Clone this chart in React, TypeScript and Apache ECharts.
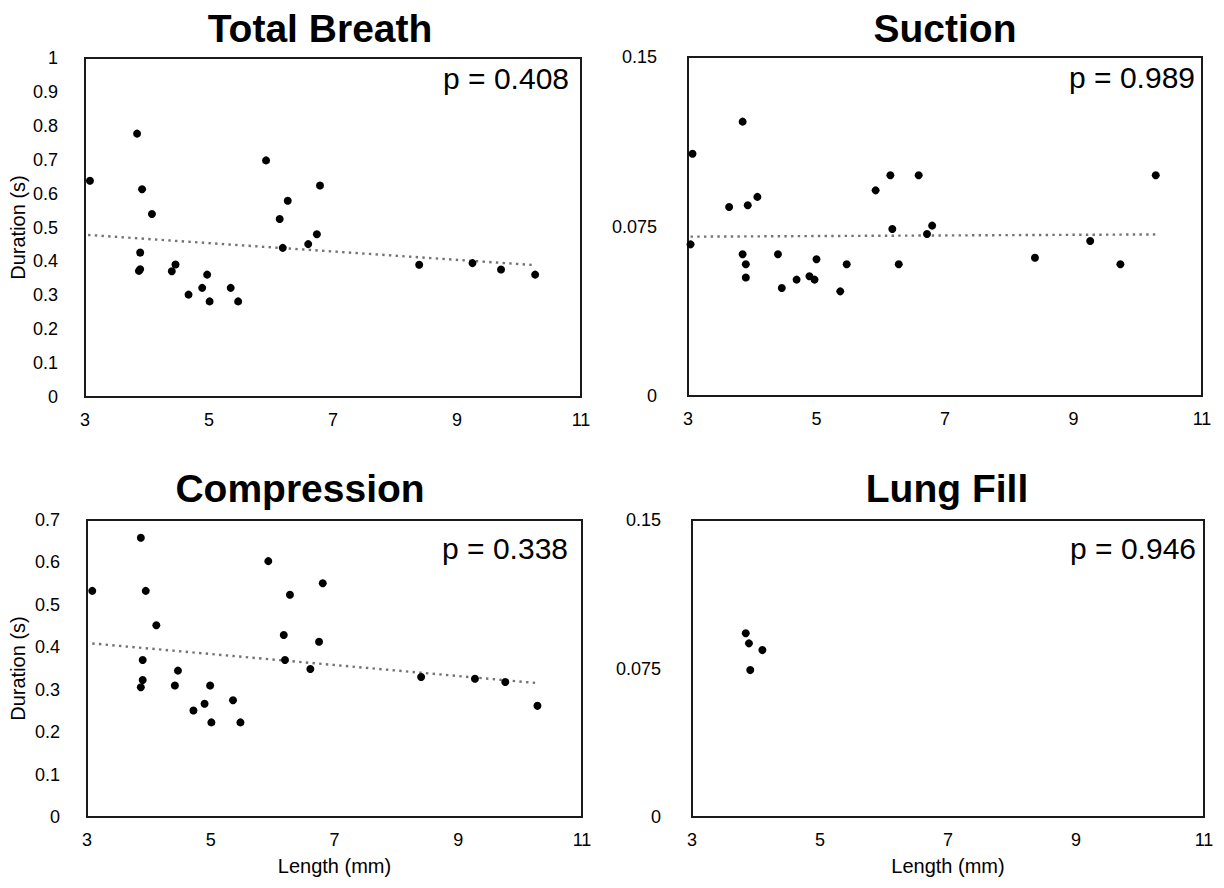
import React, { useEffect, useRef } from "react";
import * as echarts from "echarts";

// ---- data ----
const panelTitles = ["Total Breath", "Suction", "Compression", "Lung Fill"];
const pValues = ["p = 0.408", "p = 0.989", "p = 0.338", "p = 0.946"];
const xAxisTitle = "Length (mm)";
const yAxisTitle = "Duration (s)";

const totalBreathPts: [number, number][] = [
  [3.08, 0.638], [3.84, 0.777], [3.92, 0.613], [4.08, 0.54], [3.89, 0.426],
  [3.87, 0.372], [3.89, 0.377], [4.46, 0.391], [4.4, 0.371], [4.97, 0.361],
  [4.67, 0.302], [4.89, 0.322], [5.01, 0.282], [5.35, 0.322], [5.47, 0.282],
  [5.92, 0.698], [6.27, 0.579], [6.14, 0.525], [6.19, 0.44], [6.79, 0.624],
  [6.74, 0.48], [6.6, 0.451], [8.39, 0.39], [9.25, 0.395], [9.71, 0.376],
  [10.26, 0.361],
];
const suctionPts: [number, number][] = [
  [3.07, 0.1072], [3.04, 0.0671], [3.85, 0.1214], [3.64, 0.0836], [3.93, 0.0844],
  [4.08, 0.0881], [3.85, 0.0627], [3.9, 0.0583], [3.9, 0.0524], [4.4, 0.0627],
  [4.46, 0.0478], [4.69, 0.0515], [4.89, 0.053], [4.97, 0.0515], [5.0, 0.0605],
  [5.37, 0.0463], [5.47, 0.0583], [5.92, 0.091], [6.15, 0.0977], [6.59, 0.0977],
  [6.18, 0.0739], [6.28, 0.0583], [6.8, 0.0754], [6.72, 0.0717], [8.4, 0.0612],
  [9.26, 0.0686], [9.73, 0.0583], [10.28, 0.0977],
];
const compressionPts: [number, number][] = [
  [3.085, 0.533], [3.87, 0.658], [3.95, 0.533], [4.12, 0.452], [3.9, 0.37],
  [3.9, 0.323], [3.87, 0.306], [4.47, 0.345], [4.42, 0.31], [4.99, 0.31],
  [4.9, 0.267], [4.72, 0.251], [5.01, 0.223], [5.36, 0.275], [5.48, 0.223],
  [5.93, 0.603], [6.28, 0.524], [6.81, 0.551], [6.18, 0.429], [6.75, 0.413],
  [6.2, 0.37], [6.61, 0.349], [8.4, 0.33], [9.27, 0.326], [9.76, 0.318],
  [10.28, 0.262],
];
const lungFillPts: [number, number][] = [
  [3.84, 0.0928], [3.89, 0.0877], [4.1, 0.0843], [3.91, 0.0742],
];
// trend line end points
const totalBreathTrend: [number, number][] = [[3.05, 0.478], [10.26, 0.389]];
const suctionTrend: [number, number][] = [[3.04, 0.0705], [10.29, 0.0715]];
const compressionTrend: [number, number][] = [[3.085, 0.409], [10.25, 0.316]];

const xMin = 3, xMax = 11, xStep = 2;
const yMaxes = [1, 0.15, 0.7, 0.15];
const ySteps = [0.1, 0.075, 0.1, 0.075];

const FONT = "'Liberation Sans', Arial, sans-serif";

// grid boxes [left, top, width, height]
const grids = [
  [85, 58, 496, 339],
  [688, 57, 514, 339],
  [87, 520, 495, 297],
  [692, 520, 512, 297],
];

export default function App() {
  const ref = useRef<HTMLDivElement>(null);
  useEffect(() => {
    if (!ref.current) return;
    const chart = echarts.init(ref.current, undefined, { renderer: "svg" });

    const pts = [totalBreathPts, suctionPts, compressionPts, lungFillPts];
    const trends = [totalBreathTrend, suctionTrend, compressionTrend, null];

    const series: any[] = [];
    pts.forEach((d, i) => {
      const tr = trends[i];
      if (tr) {
        series.push({
          type: "line",
          xAxisIndex: i,
          yAxisIndex: i,
          data: tr,
          symbol: "none",
          lineStyle: { color: "#737373", width: 2.4, type: [2.4, 4.3] },
          z: 1,
          silent: true,
        });
      }
      series.push({
        type: "scatter",
        xAxisIndex: i,
        yAxisIndex: i,
        data: d,
        symbol: "circle",
        symbolSize: 8,
        itemStyle: { color: "#000", opacity: 1 },
        z: 3,
      });
    });

    const graphic: any[] = [];
    const titleCenters = [
      [320, 28],
      [945, 28],
      [300, 488],
      [947, 488],
    ];
    grids.forEach((g, i) => {
      const [l, t, w, h] = g;
      graphic.push({
        type: "text",
        x: titleCenters[i][0],
        y: titleCenters[i][1],
        style: {
          text: panelTitles[i],
          font: `bold 39px ${FONT}`,
          fill: "#000",
          align: "center",
          verticalAlign: "middle",
        },
      });
      const pOffY = i < 2 ? 20 : 28;
      const pOffX = i === 0 ? 12 : i === 1 ? 7 : i === 2 ? 14 : 8;
      graphic.push({
        type: "text",
        x: l + w - pOffX,
        y: t + pOffY,
        style: {
          text: pValues[i],
          font: `30px ${FONT}`,
          fill: "#000",
          align: "right",
          verticalAlign: "middle",
        },
      });
      if (i === 0 || i === 2) {
        graphic.push({
          type: "text",
          x: 18,
          y: t + h / 2,
          rotation: Math.PI / 2,
          style: {
            text: yAxisTitle,
            font: `20px ${FONT}`,
            fill: "#000",
            align: "center",
            verticalAlign: "middle",
          },
        });
      }
      if (i >= 2) {
        graphic.push({
          type: "text",
          x: l + w / 2,
          y: 866,
          style: {
            text: xAxisTitle,
            font: `20px ${FONT}`,
            fill: "#000",
            align: "center",
            verticalAlign: "middle",
          },
        });
      }
    });

    chart.setOption({
      animation: false,
      backgroundColor: "#fff",
      grid: grids.map((g) => ({
        left: g[0],
        top: g[1],
        width: g[2],
        height: g[3],
        show: true,
        borderColor: "#1a1a1a",
        borderWidth: 2,
        backgroundColor: "transparent",
        containLabel: false,
      })),
      xAxis: grids.map((_, i) => ({
        type: "value",
        gridIndex: i,
        min: xMin,
        max: xMax,
        interval: xStep,
        axisLine: { show: false },
        axisTick: { show: false },
        splitLine: { show: false },
        axisLabel: {
          color: "#000",
          fontSize: 18,
          fontFamily: FONT,
          margin: 14,
          showMinLabel: true,
          showMaxLabel: true,
        },
      })),
      yAxis: grids.map((_, i) => ({
        type: "value",
        gridIndex: i,
        min: 0,
        max: yMaxes[i],
        interval: ySteps[i],
        axisLine: { show: false },
        axisTick: { show: false },
        splitLine: { show: false },
        axisLabel: {
          color: "#000",
          fontSize: 18,
          fontFamily: FONT,
          margin: i === 0 || i === 2 ? 27 : 31,
          showMinLabel: true,
          showMaxLabel: true,
        },
      })),
      series,
      graphic,
    });
    return () => chart.dispose();
  }, []);
  return (
    <div
      ref={ref}
      style={{ position: "fixed", left: 0, top: 0, width: 1224, height: 888, background: "#fff" }}
    />
  );
}
